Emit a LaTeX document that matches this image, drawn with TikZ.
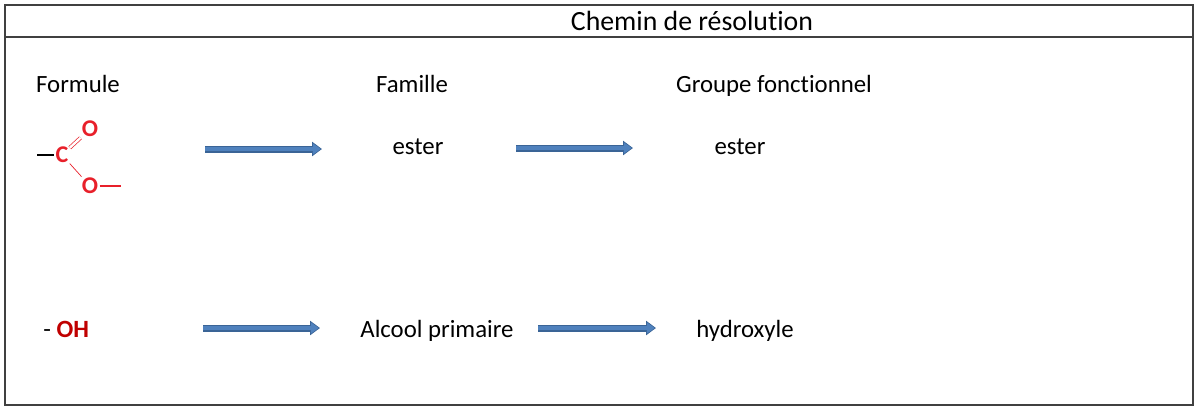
\documentclass[tikz,border=0pt]{standalone}
\usepackage{fontspec}
\setmainfont{Carlito}[Ligatures=NoCommon]
\usetikzlibrary{arrows.meta}

\definecolor{arrowfill}{HTML}{4F81BD}
\definecolor{arrowedge}{HTML}{3A6496}
\definecolor{atomred}{HTML}{E8202A}
\definecolor{ohred}{HTML}{C00000}
\definecolor{framegray}{HTML}{404040}

\begin{document}
\begin{tikzpicture}[x=0.5pt, y=-0.5pt, every node/.style={align=center, font=\fontsize{12.4}{15}\selectfont},
   txt/.style={anchor=base, inner sep=0pt},
   atom/.style={text=atomred, font=\fontsize{12}{14}\selectfont\bfseries, inner sep=0.5pt},
   blockarrow/.style={draw=arrowedge, line width=3.5pt, -{Triangle[length=5pt, width=7pt]},
      postaction={draw=arrowfill, line width=2.3pt, shorten >=0.6pt, -{Triangle[length=4pt, width=5.4pt]}}}]
   \useasboundingbox (0,0) rectangle (1200,409);
   \draw[framegray, line width=1pt] (5,5) rectangle (1193,405);
   \draw[framegray, line width=1pt] (5,37) -- (1193,37);
   \node[txt, font=\fontsize{13.9}{16}\selectfont] (title) at (692,30) {Chemin de résolution};

   % column heads
   \node[txt] (formule) at (78,92) {Formule};
   \node[txt] (famille) at (412,92) {Famille};
   \node[txt] (groupe) at (774,92) {Groupe fonctionnel};

   % ester row
   \node[atom] (C) at (62,155) {C};
   \node[atom] (O1) at (90,129) {O};
   \node[atom] (O2) at (90,186) {O};
   \coordinate (Cleft) at (37,155);
   \coordinate (O2right) at (121,186);
   \draw[black, line width=1.1pt] (Cleft) -- (C.west);
   \draw[atomred, line width=0.8pt] (O2.east) -- (O2right);
   \draw[atomred, double, line width=0.35pt, double distance=1.2pt] (C) -- (O1);
   \draw[atomred, line width=0.35pt] (C) -- (O2);

   \node[txt] (ester1) at (418,154) {ester};
   \node[txt] (ester2) at (740,154) {ester};
   \coordinate (a1s) at (205,149); \coordinate (a1e) at (322,149);
   \coordinate (a2s) at (516,148); \coordinate (a2e) at (633,148);
   \draw[blockarrow] (a1s) -- (a1e);
   \draw[blockarrow] (a2s) -- (a2e);

   % alcool row
   \node[txt, anchor=base west] (oh) at (43,337) {- \textcolor{ohred}{\bfseries OH}};
   \node[txt] (alcool) at (437,337) {Alcool primaire};
   \node[txt] (hydroxyle) at (745,337) {hydroxyle};
   \coordinate (b1s) at (203,328); \coordinate (b1e) at (320,328);
   \coordinate (b2s) at (538,328); \coordinate (b2e) at (656,328);
   \draw[blockarrow] (b1s) -- (b1e);
   \draw[blockarrow] (b2s) -- (b2e);
 \end{tikzpicture}
\end{document}
